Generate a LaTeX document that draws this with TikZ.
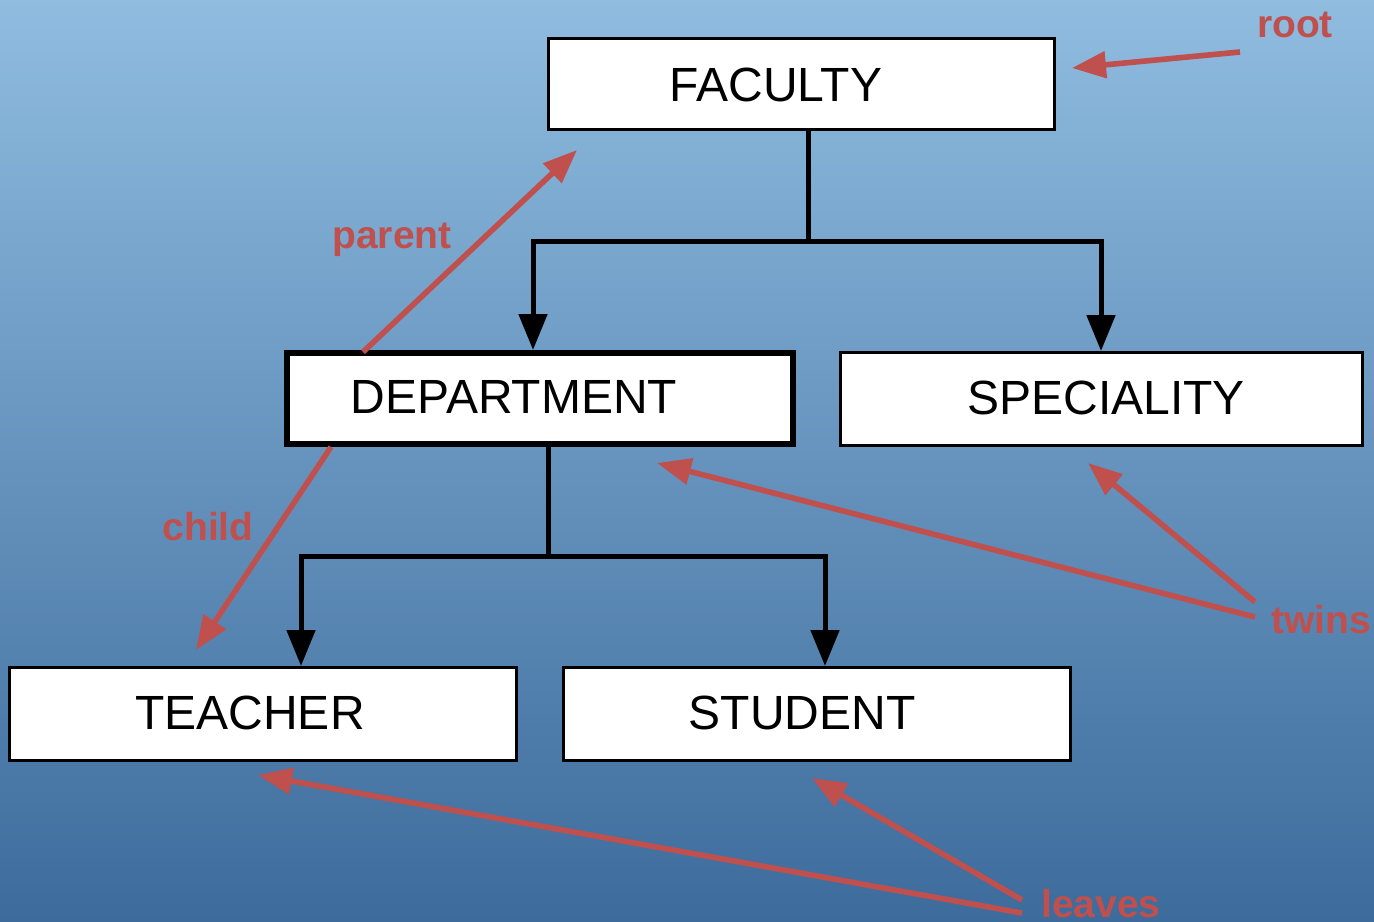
\documentclass[tikz,border=0pt]{standalone}
\usepackage{fontspec}
\setmainfont{Liberation Sans}
\usetikzlibrary{arrows.meta}
\definecolor{bgtop}{HTML}{8FBCDF}
\definecolor{bgbot}{HTML}{3D6B9C}
\definecolor{notered}{HTML}{C0504D}
\begin{document}
\begin{tikzpicture}[x=0.5pt,y=-0.5pt,
  box/.style={draw=black,fill=white,line width=1.5pt,inner sep=0pt,
              minimum width=253pt,minimum height=45.5pt},
  word/.style={anchor=base,inner sep=0pt,font=\fontsize{24}{28}\selectfont},
  link/.style={line width=2.5pt,line join=miter,-{Triangle[length=18pt,width=14pt]}},
  stem/.style={line width=2.5pt},
  note/.style={draw=notered,line width=2.8pt,-{Triangle[length=17pt,width=13pt]}},
  tag/.style={anchor=base,inner sep=0pt,text=notered,font=\bfseries\fontsize{19.5}{23}\selectfont}]

% backdrop
\useasboundingbox (0,0) rectangle (1374,921);
\shade[top color=bgtop,bottom color=bgbot] (0,0) rectangle (1374,921);

% boxes
\node[box] (fac) at (801.5,84) {};
\node[box,line width=3pt] (dep) at (540,398.5) {};
\node[box,minimum width=261pt,minimum height=46.5pt] (spe) at (1101.5,399) {};
\node[box,minimum width=253.5pt,minimum height=46.5pt] (tea) at (263,714) {};
\node[box,minimum width=253.5pt,minimum height=46.5pt] (stu) at (817,714) {};

% box captions
\node[word] (facT) at (776,101) {FACULTY};
\node[word] (depT) at (514,413) {DEPARTMENT};
\node[word] (speT) at (1106,414) {SPECIALITY};
\node[word] (teaT) at (250,729) {TEACHER};
\node[word] (stuT) at (802,729) {STUDENT};

% tree links: faculty level
\coordinate (j1) at (808,241);
\coordinate (a1) at (533,241);
\coordinate (a2) at (1101,241);
\draw[stem] (fac.south -| j1) -- (j1);
\draw[link] (j1) -| (a1 |- dep.north);
\draw[link] (j1) -| (a2 |- spe.north);

% tree links: department level
\coordinate (j2) at (548,556);
\coordinate (b1) at (301,556);
\coordinate (b2) at (825,556);
\draw[stem] (dep.south -| j2) -- (j2);
\draw[link] (j2) -| (b1 |- tea.north);
\draw[link] (j2) -| (b2 |- stu.north);

% annotations
\node[tag] (root) at (1295,37) {root};
\node[tag] (parent) at (392,248) {parent};
\node[tag] (child) at (208,540) {child};
\node[tag] (twins) at (1321,633) {twins};
\node[tag] (leaves) at (1101,917) {leaves};

\coordinate (rootS) at (1240,52);
\coordinate (rootE) at (1072,68);
\coordinate (parS) at (363,352);
\coordinate (parE) at (577,150);
\coordinate (chS) at (331,447);
\coordinate (chE) at (196,650);
\coordinate (twS1) at (1255,617);
\coordinate (twE1) at (657,463);
\coordinate (twS2) at (1255,602);
\coordinate (twE2) at (1088,463);
\coordinate (lvS1) at (1022,913);
\coordinate (lvE1) at (258,775);
\coordinate (lvS2) at (1022,900);
\coordinate (lvE2) at (812,778);

\draw[note] (rootS) -- (rootE);
\draw[note] (parS) -- (parE);
\draw[note] (chS) -- (chE);
\draw[note] (twS1) -- (twE1);
\draw[note] (twS2) -- (twE2);
\draw[note] (lvS1) -- (lvE1);
\draw[note] (lvS2) -- (lvE2);
\end{tikzpicture}
\end{document}
